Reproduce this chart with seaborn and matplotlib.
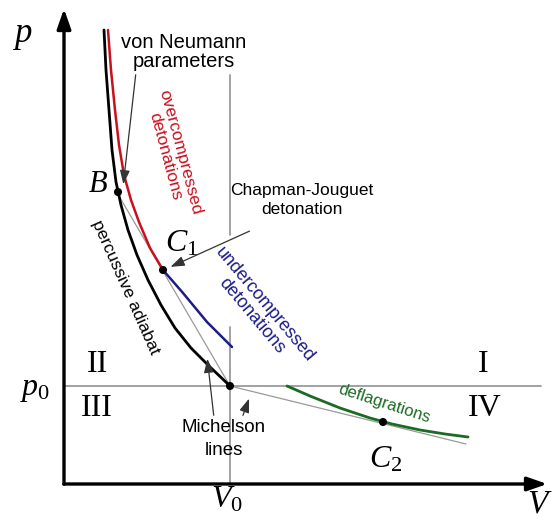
import matplotlib
matplotlib.use("Agg")
import matplotlib.pyplot as plt
import pandas as pd
import seaborn as sns

# picture units: V grows to the right, p grows downwards on screen (y axis inverted)
adiabat_V = [104, 106, 109, 112, 116, 121, 128, 137, 148, 161, 175, 191, 209, 230]
adiabat_p = [30, 70, 110, 150, 182, 205, 230, 255, 280, 305, 328, 348, 366, 386]
over_V = [108, 111, 115, 119, 124, 131, 139, 150, 163]
over_p = [30, 70, 110, 145, 175, 200, 222, 248, 270]
under_V = [163, 183, 207, 232]
under_p = [270, 293, 322, 347]
defl_V = [287, 310, 340, 370, 392, 420, 445, 468]
defl_p = [386, 396, 408, 418, 424, 430, 434, 437]
michelson_up_V = [119, 230]
michelson_up_p = [196, 386]
michelson_low_V = [230, 466]
michelson_low_p = [386, 444]
point_names = ["B", "C1", "O", "C2"]
point_V = [118, 163, 230, 383]
point_p = [192, 270, 386, 422]
V0, p0 = 230, 386

RED = "#c8101e"
BLUE = "#1c1c8a"
GREEN = "#1d6a24"
GRAY = "#9a9a9a"

sns.set_theme(style="white")
plt.rcParams["font.family"] = ["Liberation Sans", "DejaVu Sans"]
plt.rcParams["text.color"] = "black"
plt.rcParams["mathtext.fontset"] = "custom"
plt.rcParams["mathtext.it"] = "Liberation Serif:italic"
plt.rcParams["mathtext.rm"] = "Liberation Serif"

fig = plt.figure(figsize=(5.58, 5.27), dpi=100)
ax = fig.add_axes([0, 0, 1, 1])
ax.set_xlim(0, 558)
ax.set_ylim(527, 0)
ax.axis("off")

# reference lines
ax.plot([64, 541], [p0, p0], color=GRAY, lw=1.3)
ax.plot([V0, V0], [75, 235], color=GRAY, lw=1.3)
ax.plot([V0, V0], [327, 484], color=GRAY, lw=1.3)

# Michelson (Rayleigh) lines
sns.lineplot(x=michelson_up_V, y=michelson_up_p, ax=ax, color=GRAY, lw=0.9, sort=False)
sns.lineplot(x=michelson_low_V, y=michelson_low_p, ax=ax, color=GRAY, lw=0.9, sort=False)

# curves
sns.lineplot(x=adiabat_V, y=adiabat_p, ax=ax, color="black", lw=2.0, sort=False)
sns.lineplot(x=over_V, y=over_p, ax=ax, color=RED, lw=1.8, sort=False)
sns.lineplot(x=under_V, y=under_p, ax=ax, color=BLUE, lw=1.8, sort=False)
sns.lineplot(x=defl_V, y=defl_p, ax=ax, color=GREEN, lw=2.0, sort=False)

pts = pd.DataFrame({"V": point_V, "p": point_p, "name": point_names})
sns.scatterplot(data=pts, x="V", y="p", ax=ax, color="black", s=34, edgecolor="none", zorder=5)

# axes with arrows
ax.annotate("", xy=(64, 6), xytext=(64, 487),
            arrowprops=dict(arrowstyle="-|>,head_length=1.0,head_width=0.35", lw=2.4, color="black"))
ax.annotate("", xy=(550, 484), xytext=(61, 484),
            arrowprops=dict(arrowstyle="-|>,head_length=1.0,head_width=0.35", lw=2.4, color="black"))

# leaders
lead = dict(arrowstyle="-|>,head_length=0.7,head_width=0.25", lw=0.9, color="#333333")
ax.annotate("", xy=(123, 187), xytext=(136, 72), arrowprops=lead)
ax.annotate("", xy=(168, 268), xytext=(252, 230), arrowprops=lead)
ax.annotate("", xy=(207, 356), xytext=(214, 418), arrowprops=lead)
ax.annotate("", xy=(250, 396), xytext=(242, 418), arrowprops=lead)

# serif symbols
ax.text(22, 36, "$p$", fontsize=25, ha="center", va="center")
ax.text(98, 184, "$B$", fontsize=22, ha="center", va="center")
ax.text(182, 244, "$C_1$", fontsize=23, ha="center", va="center")
ax.text(386, 460, "$C_2$", fontsize=23, ha="center", va="center")
ax.text(35, 389, "$p_0$", fontsize=23, ha="center", va="center")
ax.text(227, 500, "$V_0$", fontsize=23, ha="center", va="center")
ax.text(540, 504, "$V$", fontsize=24, ha="center", va="center")
ax.text(97, 364, "II", fontsize=23, ha="center", va="center", family="Liberation Serif")
ax.text(97, 408, "III", fontsize=23, ha="center", va="center", family="Liberation Serif")
ax.text(483, 364, "I", fontsize=23, ha="center", va="center", family="Liberation Serif")
ax.text(485, 408, "IV", fontsize=23, ha="center", va="center", family="Liberation Serif")

# labels
ax.text(184, 52, "von Neumann\nparameters", fontsize=14.5, ha="center", va="center", linespacing=1.05)
ax.text(302, 200, "Chapman-Jouguet\ndetonation", fontsize=12.5, ha="center", va="center", linespacing=1.25)
ax.text(224, 439, "Michelson\nlines", fontsize=13.5, ha="center", va="center", linespacing=1.4)
ax.text(173, 154, "overcompressed\ndetonations", fontsize=12.5, color=RED, ha="center", va="center",
        rotation=-75, rotation_mode="anchor", linespacing=1.0)
ax.text(258, 310, "undercompressed\ndetonations", fontsize=13, color=BLUE, ha="center", va="center",
        rotation=-50, rotation_mode="anchor", linespacing=1.0)
ax.text(125, 287, "percussive adiabat", fontsize=12.5, color="black", ha="center", va="center",
        rotation=-66, rotation_mode="anchor")
ax.text(384, 404, "deflagrations", fontsize=12, color=GREEN, ha="center", va="center",
        rotation=-18, rotation_mode="anchor")

fig.savefig("out.png", dpi=100)
